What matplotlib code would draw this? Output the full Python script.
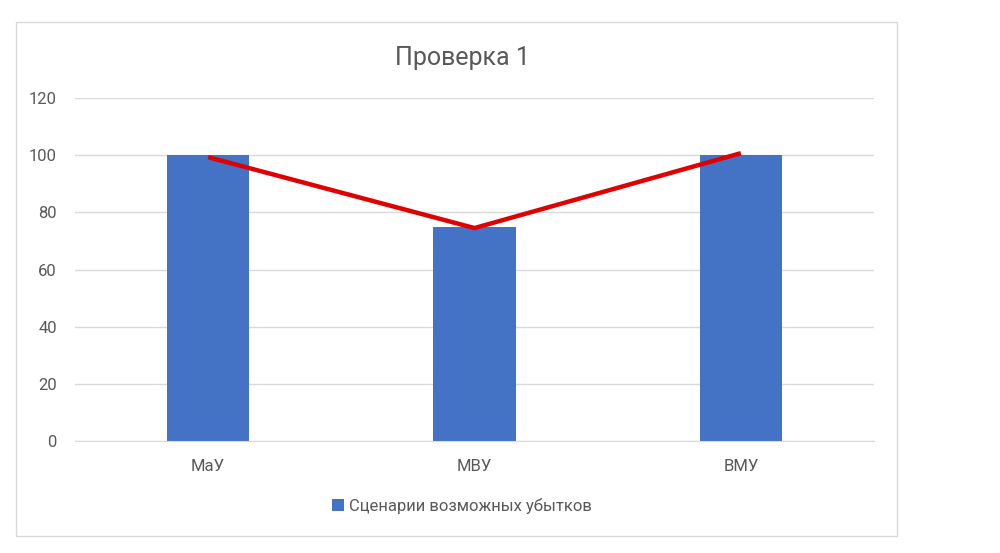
import matplotlib
matplotlib.use("Agg")
import matplotlib.pyplot as plt
from matplotlib.patches import Rectangle
import numpy as np

categories = ["МаУ", "МВУ", "ВМУ"]
bar_values = [100, 75, 100]
line_values = [99.3, 74.5, 100.7]
series_name = "Сценарии возможных убытков"
title = "Проверка 1"
yticks = [0, 20, 40, 60, 80, 100, 120]

plt.rcParams['font.family'] = ['Roboto', 'DejaVu Sans']
text_color = "#595959"
grid_color = "#D9D9D9"

fig = plt.figure(figsize=(10, 5.53), dpi=100)
fig.patch.set_facecolor("white")
fig.add_artist(Rectangle((16/1000, 1-536/553), (897-16)/1000, (536-22)/553,
                         transform=fig.transFigure, fill=False,
                         edgecolor=grid_color, linewidth=1))

ax = fig.add_axes([0.075, 1-441/553, 0.799, (441-98)/553])
x = np.arange(len(categories))
ax.bar(x, bar_values, width=0.31, color="#4472C4", label=series_name, zorder=2)
ax.plot(x, line_values, color="#E00000", linewidth=3.2, zorder=3, solid_capstyle='butt')

ax.set_xlim(-0.5, len(categories) - 0.5)
ax.set_ylim(0, 120)
ax.set_yticks(yticks)
ax.set_yticklabels([str(v) for v in yticks])
ax.set_xticks(x)
ax.set_xticklabels(categories)
ax.yaxis.grid(True, color=grid_color, linewidth=1, zorder=0)
ax.set_axisbelow(True)
for s in ["top", "right", "left"]:
    ax.spines[s].set_visible(False)
ax.spines["bottom"].set_color(grid_color)
ax.tick_params(axis='both', length=0, colors=text_color, labelsize=12)
ax.tick_params(axis='y', pad=13)
ax.tick_params(axis='x', pad=13)

fig.text(0.462, 1-58/553, title, ha='center', va='center', fontsize=18, color=text_color)

leg = fig.legend(loc='center', bbox_to_anchor=(0.462, 1-506/553), frameon=False,
                 fontsize=12, handlelength=0.7, handleheight=0.7, handletextpad=0.3)
for t in leg.get_texts():
    t.set_color(text_color)

fig.savefig("out.png", dpi=100, facecolor="white")
